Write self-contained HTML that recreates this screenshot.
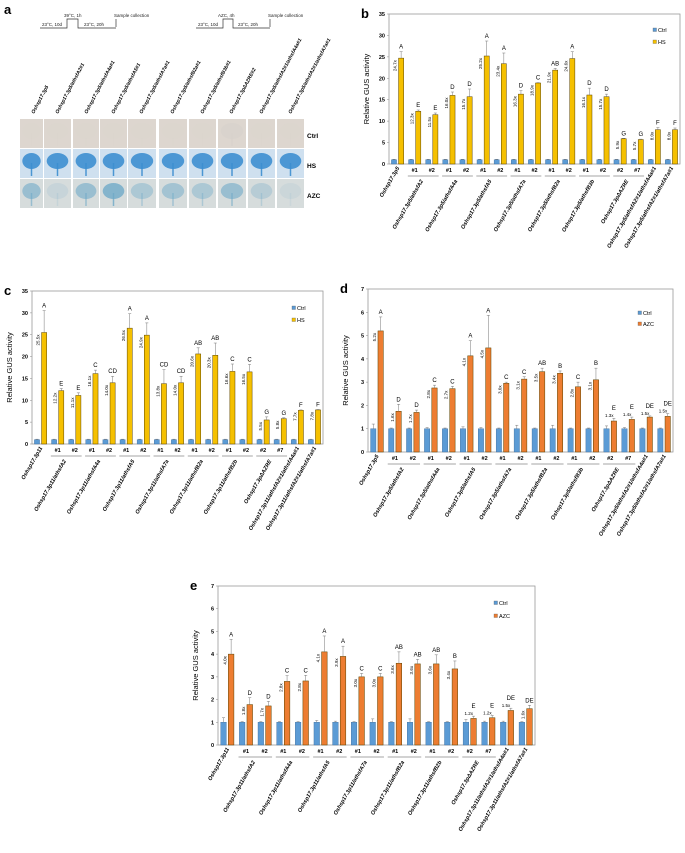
<!DOCTYPE html>
<html><head><meta charset="utf-8"><style>
html,body{margin:0;padding:0;background:#fff;}
svg{display:block;font-family:"Liberation Sans",Arial,sans-serif;}
</style></head><body>
<svg id="fig" width="685" height="853" viewBox="0 0 685 853" xmlns="http://www.w3.org/2000/svg">
<g id="pa">
<text x="4" y="14" font-size="13" font-weight="bold">a</text>
<g stroke="#333" fill="none" stroke-width="0.7">
<polyline points="40,28 67,28 67,19 78,19 78,28 116,28"/>
<line x1="116" y1="19" x2="116" y2="27"/>
</g>
<g font-size="4.5" fill="#222">
<text x="42" y="26">23°C, 10d</text><text x="64" y="17">39°C, 1h</text><text x="84" y="26">23°C, 20h</text><text x="114" y="17">Sample collection</text>
<text x="198" y="26">23°C, 10d</text><text x="218" y="17">AZC, 4h</text><text x="238" y="26">23°C, 20h</text><text x="268" y="17">Sample collection</text>
</g>
<g stroke="#333" fill="none" stroke-width="0.7">
<polyline points="196,28 223,28 223,19 233,19 233,28 270,28"/>
<line x1="270" y1="19" x2="270" y2="27"/>
</g>
<g id="acols"></g>
<g id="agrid"></g>
</g>
<g id="pb"></g><g id="pc"></g><g id="pd"></g><g id="pe"></g>
</svg>
<script>
const NS="http://www.w3.org/2000/svg";
function mk(p,t,a){const e=document.createElementNS(NS,t);for(const k in a)e.setAttribute(k,a[k]);p.appendChild(e);return e;}

const aCols=["Oshsp17.3p5","Oshsp17.3p5/athsfA2#1","Oshsp17.3p5/athsfA4a#1","Oshsp17.3p5/athsfA5#1","Oshsp17.3p5/athsfA7a#1","Oshsp17.3p5/athsfB2a#1","Oshsp17.3p5/athsfB3b#1","Oshsp17.3pΔAZRE#2","Oshsp17.3p5/athsfA2#1/athsfA4a#1","Oshsp17.3p5/athsfA2#1/athsfA7a#1"];
const aRows=["Ctrl","HS","AZC"];
const aColX=[20,44,73,100,128,159,189,218,248,277];
const aColW=[23,27,26,27,28,28,27,28,27,27];
(function(){
 const g=document.getElementById('agrid'),gc=document.getElementById('acols');
 const fills={Ctrl:["#ddd6cf","#d8d2cc"],HS:["#cfe0ef","#3d8fd0"],AZC:["#d6dcdc","#6faac8"]};
 aCols.forEach((n,i)=>{
  const w=aColW[i];
  const t=mk(gc,'text',{x:aColX[i]+14,y:114,'font-size':'5','font-weight':'bold','font-style':'italic','text-anchor':'start',transform:`rotate(-62 ${aColX[i]+14} 114)`});
  t.textContent=n;
  
  
  aRows.forEach((r,j)=>{
   const y=119+j*30;
   const rc=mk(g,'rect',{x:aColX[i],y:y,width:w,height:29,fill:fills[r][0]});
   
   
   let op=r==='Ctrl'?(i===7?0.8:0.12):r==='HS'?0.9:[0.6,0.15,0.6,0.8,0.4,0.5,0.4,0.6,0.3,0.1][i];
   mk(g,'ellipse',{cx:aColX[i]+w/2,cy:y+12,rx:w*0.4,ry:8,fill:fills[r][1],opacity:op});
   mk(g,'line',{x1:aColX[i]+w/2,y1:y+14,x2:aColX[i]+w/2,y2:y+27,stroke:fills[r][1],'stroke-width':1.5,opacity:op});
  });
 });
 aRows.forEach((r,j)=>{const t=mk(g,'text',{x:307,y:138+j*30,'font-size':'6.5','font-weight':'bold'});t.textContent=r;
  });
})();

const groupsP5=["Oshsp17.3p5","Oshsp17.3p5/athsfA2","Oshsp17.3p5/athsfA4a","Oshsp17.3p5/athsfA5","Oshsp17.3p5/athsfA7a","Oshsp17.3p5/athsfB2a","Oshsp17.3p5/athsfB3b","Oshsp17.3pΔAZRE","Oshsp17.3p5/athsfA2#1/athsfA4a#1","Oshsp17.3p5/athsfA2#1/athsfA7a#1"];
const groupsP11=["Oshsp17.3p11","Oshsp17.3p11/athsfA2","Oshsp17.3p11/athsfA4a","Oshsp17.3p11/athsfA5","Oshsp17.3p11/athsfA7a","Oshsp17.3p11/athsfB2a","Oshsp17.3p11/athsfB2b","Oshsp17.3pΔAZRE","Oshsp17.3p11/athsfA2#1/athsfA4a#1","Oshsp17.3p11/athsfA2#1/athsfA7a#1"];
const lines=["","#1","#2","#1","#2","#1","#2","#1","#2","#1","#2","#1","#2","#2","#7","",""];
const ctrlB=[1,1,1,1,1,1,1,1,1,1,1,1,1,1,1,1,1];
const ctrlErrB=[0.1,0.1,0.1,0.1,0.1,0.1,0.1,0.1,0.1,0.1,0.1,0.1,0.1,0.1,0.1,0.1,0.1];
const hsB=[24.7,12.3,11.5,16.0,15.7,25.2,23.4,16.3,18.9,21.9,24.6,16.1,15.7,5.9,5.7,8.0,8.0];
const hsErrB=[1.5,0.3,0.4,0.8,1.8,3.5,2.5,0.8,0.1,0.4,1.6,1.6,0.6,0.1,0.1,0.5,0.4];
const foldB=["24.7x","12.3x","11.5x","16.0x","15.7x","25.2x","23.4x","16.3x","18.9x","21.9x","24.6x","16.1x","15.7x","5.9x","5.7x","8.0x","8.0x"];
const letB=["A","E","E","D","D","A","A","D","C","AB","A","D","D","G","G","F","F"];
const hsC=[25.5,12.2,11.1,16.1,14.0,26.5,24.9,13.8,14.0,20.6,20.3,16.6,16.5,5.5,5.8,7.7,7.8];
const hsErrC=[5,0.5,0.6,0.8,1.5,3.3,2.8,3.2,1.5,1.4,2.8,1.7,1.7,0.7,0.2,0.1,0.1];
const foldC=["25.5x","12.2x","11.1x","16.1x","14.0x","26.5x","24.9x","13.8x","14.0x","20.6x","20.3x","16.6x","16.5x","5.5x","5.8x","7.7x","7.8x"];
const letC=["A","E","E","C","CD","A","A","CD","CD","AB","AB","C","C","G","G","F","F"];
const ctrlErrD=[0.2,0.03,0.03,0.05,0.03,0.08,0.05,0.03,0.15,0.03,0.15,0.03,0.03,0.12,0.05,0.03,0.03];
const azcD=[5.2,1.75,1.7,2.75,2.72,4.13,4.47,2.95,3.13,3.45,3.38,2.8,3.1,1.33,1.4,1.5,1.53];
const azcErrD=[0.6,0.3,0.1,0.12,0.1,0.65,1.4,0.05,0.1,0.15,0.1,0.2,0.5,0.12,0.1,0.05,0.12];
const foldD=["5.2x","1.6x","1.7x","2.8x","2.7x","4.1x","4.5x","3.0x","3.1x","3.5x","3.4x","2.8x","3.1x","1.3x","1.4x","1.5x","1.5x"];
const letD=["A","D","D","C","C","A","A","C","C","AB","B","C","B","E","E","DE","DE"];
const ctrlErrE=[0.2,0.03,0.03,0.03,0.03,0.08,0.05,0.03,0.15,0.03,0.15,0.03,0.03,0.12,0.05,0.05,0.03];
const azcE=[4.0,1.78,1.72,2.8,2.82,4.1,3.9,3.0,3.0,3.6,3.57,3.57,3.35,1.17,1.2,1.52,1.6];
const azcErrE=[0.65,0.3,0.2,0.25,0.25,0.7,0.45,0.15,0.15,0.5,0.2,0.4,0.35,0.1,0.1,0.1,0.15];
const foldE=["4.0x","1.8x","1.7x","2.8x","2.8x","4.1x","3.9x","3.0x","3.0x","3.6x","3.6x","3.6x","3.4x","1.2x","1.2x","1.5x","1.6x"];
const letE=["A","D","D","C","C","A","A","C","C","AB","AB","AB","B","E","E","DE","DE"];
const ticksHS=[0,5,10,15,20,25,30,35];
const ticksAZC=[0,1,2,3,4,5,6,7];

function chart(id,o){
 const g=document.getElementById(id);
 
 const {L,T,R,B,max}=o;
 const y=v=>B-v/max*(B-T);
 const n=o.tr.length, gw=(R-L)/n, bw=gw*0.3;
 const cx=i=>L+gw*(i+0.5);
 const pl=mk(g,'text',{x:L-28,y:T+4,'font-size':'13','font-weight':'bold'});pl.textContent=o.letter;
 
 const box=mk(g,'rect',{x:L,y:T,width:R-L,height:B-T,fill:'none',stroke:'#999','stroke-width':0.8});
 
 o.ticks.forEach(t=>{const tt=mk(g,'text',{x:L-4,y:y(t)+2,'font-size':'5.5','font-weight':'bold','text-anchor':'end'});tt.textContent=t;
  
  mk(g,'line',{x1:L-2,x2:L,y1:y(t),y2:y(t),stroke:'#999','stroke-width':0.6});});
 const yt=mk(g,'text',{x:L-20,y:(T+B)/2,'font-size':'7.5','text-anchor':'middle',transform:`rotate(-90 ${L-20} ${(T+B)/2})`});
 yt.textContent='Relative GUS activity';
 for(let i=0;i<n;i++){
  const c=cx(i);
  const b1=mk(g,'rect',{x:c-bw-1,y:y(o.ctrl[i]),width:bw,height:B-y(o.ctrl[i]),fill:'#5b9bd5',stroke:'#3a6a9a','stroke-width':0.4});
  
  const e1=y(o.ctrl[i]+o.ctrlErr[i]);
  mk(g,'line',{x1:c-bw/2-1,x2:c-bw/2-1,y1:y(o.ctrl[i]),y2:e1,stroke:'#777','stroke-width':0.5});
  mk(g,'line',{x1:c-bw/2-2.5,x2:c-bw/2+0.5,y1:e1,y2:e1,stroke:'#777','stroke-width':0.5});
  const b2=mk(g,'rect',{x:c+1,y:y(o.tr[i]),width:bw,height:B-y(o.tr[i]),fill:o.col,stroke:'#5a4300','stroke-width':0.5});
  
  const ex=c+1+bw/2,e2=y(o.tr[i]+o.err[i]);
  mk(g,'line',{x1:ex,x2:ex,y1:y(o.tr[i]),y2:e2,stroke:'#777','stroke-width':0.5});
  mk(g,'line',{x1:ex-1.5,x2:ex+1.5,y1:e2,y2:e2,stroke:'#777','stroke-width':0.5});
  const lt=mk(g,'text',{x:ex,y:e2-3,'font-size':'6','text-anchor':'middle'});lt.textContent=o.let[i];
  
  let ft;
  if(o.horizSmall && o.tr[i]<1.6){
   ft=mk(g,'text',{x:c-1,y:e2-1,'font-size':'4.5','text-anchor':'middle'});
   lt.setAttribute('y',e2-8);
  } else {
   const fx=c-1,fy=y(o.tr[i])+2;
   ft=mk(g,'text',{x:fx,y:fy,'font-size':'4.5','text-anchor':'end',transform:`rotate(-90 ${fx} ${fy})`});
  }
  ft.textContent=o.fold[i];
  if(lines[i]){const tl=mk(g,'text',{x:c,y:B+8,'font-size':'5.5','font-weight':'bold','text-anchor':'middle'});tl.textContent=lines[i];
   }
 }
 const gpos=[[0],[1,2],[3,4],[5,6],[7,8],[9,10],[11,12],[13,14],[15],[16]];
 gpos.forEach((gp,k)=>{
  let x,yy;
  if(gp.length===2){x=(cx(gp[0])+cx(gp[1]))/2;yy=B+17;
   mk(g,'line',{x1:cx(gp[0])-gw*0.4,x2:cx(gp[1])+gw*0.4,y1:B+12,y2:B+12,stroke:'#888','stroke-width':0.8});}
  else {x=cx(gp[0])+2;yy=B+4;}
  const t=mk(g,'text',{x:x,y:yy,'font-size':'5.5','font-weight':'bold','font-style':'italic','text-anchor':'end',transform:`rotate(-60 ${x} ${yy})`});
  t.textContent=o.groups[k];
 });
 [['Ctrl','#5b9bd5'],[o.trName,o.col]].forEach((l,k)=>{
  const ly=o.legY+k*o.legGap;
  mk(g,'rect',{x:o.legX,y:ly-3,width:3.5,height:3.5,fill:l[1],stroke:'#555','stroke-width':0.3});
  const t=mk(g,'text',{x:o.legX+5,y:ly+1,'font-size':'5.5'});t.textContent=l[0];
  
 });
}
chart('pb',{name:'chart-b',letter:'b',L:389,T:14,R:680,B:164,max:35,ticks:ticksHS,tr:hsB,err:hsErrB,ctrl:ctrlB,ctrlErr:ctrlErrB,fold:foldB,let:letB,col:'#f5c000',trName:'HS',groups:groupsP5,legX:653,legY:31,legGap:12});
chart('pc',{name:'chart-c',letter:'c',L:32,T:291,R:323,B:444,max:35,ticks:ticksHS,tr:hsC,err:hsErrC,ctrl:ctrlB,ctrlErr:ctrlErrB,fold:foldC,let:letC,col:'#f5c000',trName:'HS',groups:groupsP11,legX:292,legY:309,legGap:12});
chart('pd',{name:'chart-d',letter:'d',L:368,T:289,R:673,B:452,max:7,ticks:ticksAZC,tr:azcD,err:azcErrD,ctrl:ctrlB,ctrlErr:ctrlErrD,fold:foldD,let:letD,col:'#ed7d31',trName:'AZC',groups:groupsP5,legX:638,legY:314,legGap:11,horizSmall:true});
chart('pe',{name:'chart-e',letter:'e',L:218,T:586,R:535,B:745,max:7,ticks:ticksAZC,tr:azcE,err:azcErrE,ctrl:ctrlB,ctrlErr:ctrlErrE,fold:foldE,let:letE,col:'#ed7d31',trName:'AZC',groups:groupsP11,legX:494,legY:604,legGap:13,horizSmall:true});
</script>
</body></html>
